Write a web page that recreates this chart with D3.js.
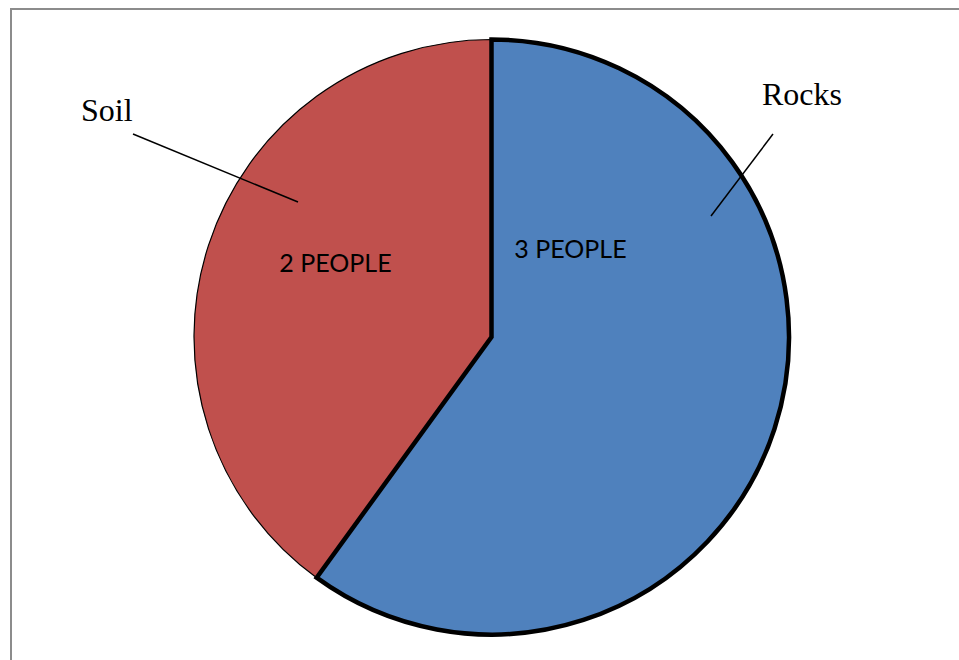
<!DOCTYPE html>
<html><head><meta charset="utf-8">
<script src="https://cdn.jsdelivr.net/npm/d3@7"></script>
<style>html,body{margin:0;padding:0;background:#fff;}svg{display:block;}</style>
</head><body>
<svg id="chart" width="959" height="660"></svg>
<script>
const categories = ["Rocks", "Soil"];
const values = [3, 2];
const valueLabels = ["3 PEOPLE", "2 PEOPLE"];
const colors = ["#4F81BD", "#C0504D"];

const svg = d3.select("#chart");
svg.append("rect").attr("x", 11).attr("y", 9).attr("width", 1000).attr("height", 700)
  .attr("fill", "#fff").attr("stroke", "#8c8c8c").attr("stroke-width", 2);

const cx = 491.5, cy = 337, r = 297.5;
const data = categories.map((c, i) => ({cat: c, value: values[i], label: valueLabels[i], color: colors[i]}));
const pie = d3.pie().value(d => d.value).sort(null);
const arcs = pie(data);
const arc = d3.arc().innerRadius(0).outerRadius(r);
const g = svg.append("g").attr("transform", `translate(${cx},${cy})`);

// draw Soil first (thin outline), then Rocks (thick outline)
const order = [1, 0];
order.forEach(i => {
  g.append("path").attr("d", arc(arcs[i])).attr("fill", data[i].color)
    .attr("stroke", "#000").attr("stroke-width", i === 0 ? 4.5 : 1.2)
    .attr("stroke-linejoin", "miter");
});

// inner value labels
const labelPos = [[cx + 79, 258], [cx - 156, 272]];
arcs.forEach((a, i) => {
  svg.append("text").attr("x", labelPos[i][0]).attr("y", labelPos[i][1])
    .attr("text-anchor", "middle").attr("font-family", "Lato, 'Open Sans', sans-serif")
    .attr("font-size", 25).attr("fill", "#000").text(data[i].label);
});

// leader lines and category labels
const leaders = [
  {x1: 773, y1: 134, x2: 711, y2: 216, tx: 762, ty: 105},
  {x1: 133, y1: 134, x2: 298, y2: 202, tx: 81, ty: 121}
];
arcs.forEach((a, i) => {
  const L = leaders[i];
  svg.append("line").attr("x1", L.x1).attr("y1", L.y1).attr("x2", L.x2).attr("y2", L.y2)
    .attr("stroke", "#000").attr("stroke-width", 1.5);
  svg.append("text").attr("x", L.tx).attr("y", L.ty)
    .attr("font-family", "'Liberation Serif', 'Times New Roman', serif")
    .attr("font-size", 32).attr("fill", "#000").text(data[i].cat);
});
</script>
</body></html>
